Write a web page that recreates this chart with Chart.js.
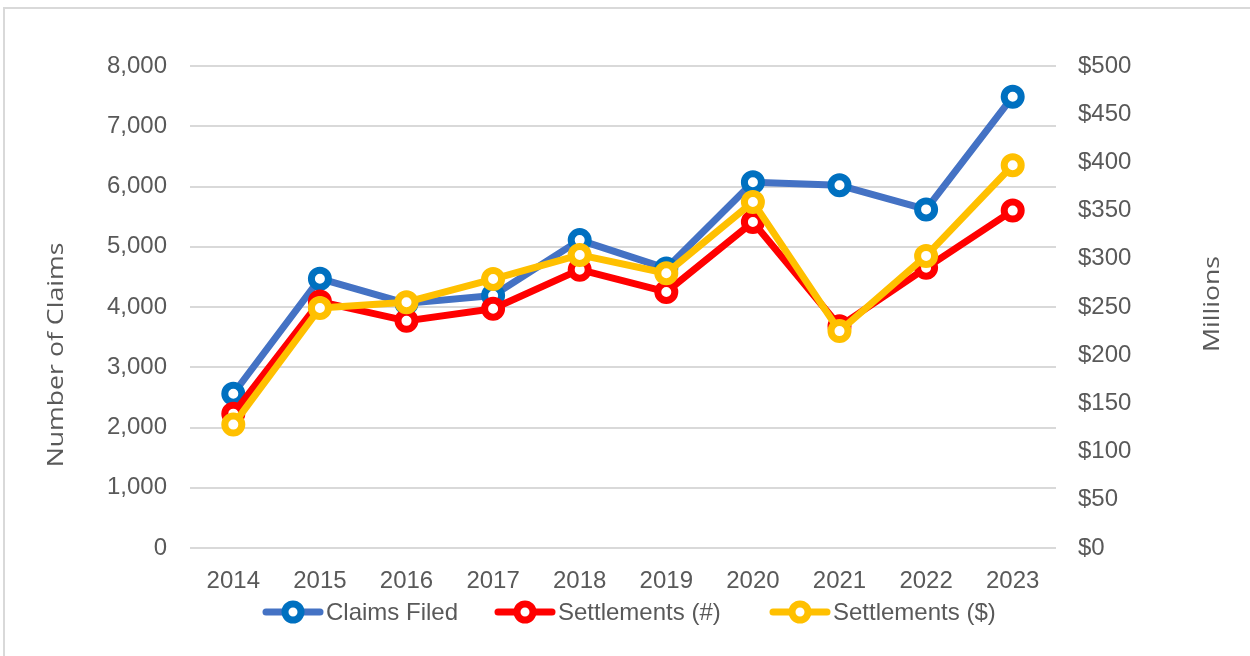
<!DOCTYPE html>
<html>
<head>
<meta charset="utf-8">
<script src="https://cdn.jsdelivr.net/npm/chart.js@4.4.1/dist/chart.umd.min.js"></script>
<style>
  html, body { margin: 0; padding: 0; background: #ffffff; }
  #wrap { position: relative; width: 1250px; height: 656px; overflow: hidden; }
  #frame { position: absolute; left: 3px; top: 7px; width: 1300px; height: 700px;
           border-left: 2px solid #d9d9d9; border-top: 2px solid #d9d9d9; box-sizing: border-box; pointer-events: none; }
  canvas { position: absolute; left: 0; top: 0; }
</style>
</head>
<body>
<div id="wrap">
  <canvas id="c" width="1250" height="656"></canvas>
  <div id="frame"></div>
</div>
<script>
const years = ['2014', '2015', '2016', '2017', '2018', '2019', '2020', '2021', '2022', '2023'];
const claimsFiled = [2560, 4470, 4060, 4190, 5110, 4640, 6070, 6020, 5620, 7490];
const settlementsCount = [2230, 4090, 3770, 3970, 4620, 4250, 5410, 3680, 4650, 5600];
const settlementsDollars = [128, 249, 255, 279, 304, 285, 359, 225, 303, 397];
const seriesNames = ['Claims Filed', 'Settlements (#)', 'Settlements ($)'];
const leftTitle = 'Number of Claims';
const rightTitle = 'Millions';

const TEXT = '#595959';
const GRID = '#d9d9d9';

const styles = [
  { line: '#4472C4', marker: '#0070C0' },
  { line: '#FF0000', marker: '#FF0000' },
  { line: '#FFC000', marker: '#FFC000' }
];

const legendPlugin = {
  id: 'customLegend',
  afterDraw(chart) {
    const ctx = chart.ctx;
    const y = 612;
    const starts = [263, 495, 770];
    ctx.save();
    ctx.font = '24px "Liberation Sans", Arial, sans-serif';
    ctx.textBaseline = 'middle';
    ctx.textAlign = 'left';
    chart.data.datasets.forEach((ds, i) => {
      const x0 = starts[i], x1 = x0 + 60;
      ctx.strokeStyle = styles[i].line;
      ctx.lineWidth = 7;
      ctx.lineCap = 'round';
      ctx.beginPath(); ctx.moveTo(x0 + 3, y); ctx.lineTo(x1 - 3, y); ctx.stroke();
      ctx.strokeStyle = styles[i].marker;
      ctx.fillStyle = '#ffffff';
      ctx.lineWidth = 7;
      ctx.beginPath(); ctx.arc((x0 + x1) / 2, y, 8, 0, Math.PI * 2); ctx.fill(); ctx.stroke();
      ctx.fillStyle = TEXT;
      ctx.fillText(ds.label, x1 + 3, y + 1);
    });
    ctx.restore();
  }
};

function drawRotated(ctx, text, x, y, stretch) {
  ctx.save();
  ctx.fillStyle = TEXT;
  ctx.textAlign = 'center';
  ctx.textBaseline = 'middle';
  ctx.font = '21px "Open Sans", sans-serif';
  ctx.translate(x, y);
  ctx.rotate(-Math.PI / 2);
  ctx.scale(stretch, 1);
  ctx.fillText(text, 0, 0);
  ctx.restore();
}

const titlesPlugin = {
  id: 'axisTitles',
  afterDraw(chart) {
    drawRotated(chart.ctx, leftTitle, 57, 355, 1.27);
    drawRotated(chart.ctx, rightTitle, 1213, 304, 1.27);
  }
};

const tickFont = { family: '"Liberation Sans", Arial, sans-serif', size: 24 };

new Chart(document.getElementById('c'), {
  type: 'line',
  data: {
    labels: years,
    datasets: [
      { label: seriesNames[0], data: claimsFiled, yAxisID: 'y', order: 2 },
      { label: seriesNames[1], data: settlementsCount, yAxisID: 'y', order: 1 },
      { label: seriesNames[2], data: settlementsDollars, yAxisID: 'y1', order: 0 }
    ].map((d, i) => Object.assign(d, {
      borderColor: styles[i].line,
      backgroundColor: styles[i].line,
      borderWidth: 7,
      borderJoinStyle: 'round',
      borderCapStyle: 'round',
      pointStyle: 'circle',
      pointRadius: 8.5,
      pointHoverRadius: 8.5,
      pointBorderWidth: 7,
      pointBorderColor: styles[i].marker,
      pointBackgroundColor: '#ffffff',
      tension: 0,
      fill: false
    }))
  },
  options: {
    responsive: false,
    animation: false,
    events: [],
    layout: { padding: { left: 0, right: 0, top: 66, bottom: 0 } },
    plugins: {
      legend: { display: false },
      tooltip: { enabled: false }
    },
    scales: {
      x: {
        type: 'category',
        offset: true,
        grid: { display: false, drawTicks: false },
        border: { display: false },
        ticks: { font: tickFont, color: TEXT, padding: 19, maxRotation: 0, autoSkip: false },
        afterFit(s) { s.height = 108; }
      },
      y: {
        position: 'left',
        min: 0, max: 8000,
        grid: { color: GRID, lineWidth: 2, drawTicks: false },
        border: { display: false },
        ticks: {
          stepSize: 1000, font: tickFont, color: TEXT, padding: 23,
          callback: v => v.toLocaleString('en-US')
        },
        afterFit(s) { s.width = 190; }
      },
      y1: {
        position: 'right',
        min: 0, max: 500,
        grid: { display: false, drawTicks: false },
        border: { display: false },
        ticks: {
          stepSize: 50, font: tickFont, color: TEXT, padding: 22,
          callback: v => '$' + v
        },
        afterFit(s) { s.width = 194; }
      }
    }
  },
  plugins: [legendPlugin, titlesPlugin]
});
</script>
</body>
</html>
